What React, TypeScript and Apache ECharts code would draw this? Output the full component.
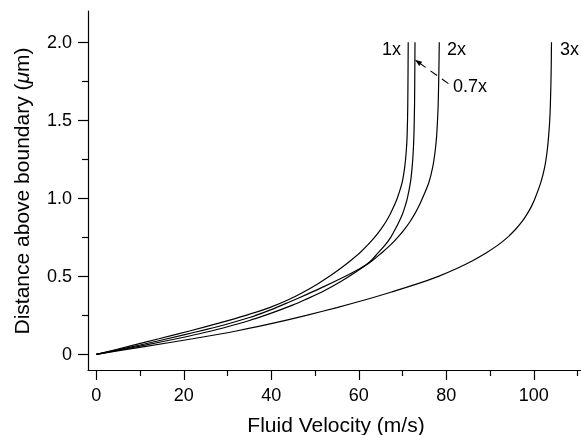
import React, { useEffect, useRef } from "react";
import * as echarts from "echarts";

const xTicks = [0, 20, 40, 60, 80, 100];
const xMinorTicks = [10, 30, 50, 70, 90, 110];
const yTicks = [0, 0.5, 1.0, 1.5, 2.0];
const yMinorTicks = [0.25, 0.75, 1.25, 1.75];

const curveNames = ["1x", "0.7x", "2x", "3x"];

// 1x profile
const x1 = [0, 7.2, 14.3, 21.3, 28, 34.2, 39.6, 43.9, 47.4, 50.5, 53.3, 55.8, 58.1, 60.2, 62.0, 63.6, 65.0, 66.2, 67.2, 68.05, 68.8, 69.9, 70.5, 70.85, 71.05, 71.2, 71.3];
const y1 = [0, 0.05, 0.1, 0.15, 0.2, 0.25, 0.3, 0.35, 0.4, 0.45, 0.5, 0.55, 0.6, 0.65, 0.7, 0.75, 0.8, 0.85, 0.9, 0.95, 1.0, 1.1, 1.2, 1.3, 1.4, 1.6, 2.0];

// 0.7x profile
const x07 = [0, 10, 20, 25, 30, 35, 40, 45, 48, 52, 56, 60, 62.6, 64.4, 66.0, 67.3, 68.3, 69.2, 70.0, 70.6, 71.1, 71.8, 72.2, 72.45, 72.6, 72.75, 72.85];
const y07 = [0, 0.053, 0.11, 0.142, 0.177, 0.217, 0.264, 0.317, 0.354, 0.406, 0.468, 0.54, 0.595, 0.65, 0.7, 0.75, 0.8, 0.85, 0.9, 0.95, 1.0, 1.1, 1.2, 1.3, 1.4, 1.6, 2.0];

// 2x profile
const x2 = [0, 10, 20, 25, 30, 35, 40, 44, 48, 52, 56, 60, 62.6, 65.2, 67.2, 68.9, 70.4, 71.7, 72.8, 73.75, 74.55, 76.0, 76.9, 77.45, 77.8, 78.0, 78.15, 78.3, 78.4];
const y2 = [0, 0.06, 0.125, 0.159, 0.195, 0.236, 0.287, 0.334, 0.383, 0.434, 0.488, 0.546, 0.59, 0.65, 0.7, 0.75, 0.8, 0.85, 0.9, 0.95, 1.0, 1.1, 1.2, 1.3, 1.4, 1.5, 1.6, 1.8, 2.0];

// 3x profile
const x3 = [0, 11, 22, 32, 40.5, 48, 55, 61.5, 67.5, 73.2, 78.2, 82.4, 86, 89.1, 91.8, 94.0, 95.8, 97.3, 98.5, 99.5, 100.3, 101.6, 102.5, 103.05, 103.4, 103.65, 103.8, 103.97, 104.05];
const y3 = [0, 0.05, 0.1, 0.15, 0.2, 0.25, 0.3, 0.35, 0.4, 0.45, 0.5, 0.55, 0.6, 0.65, 0.7, 0.75, 0.8, 0.85, 0.9, 0.95, 1.0, 1.1, 1.2, 1.3, 1.4, 1.5, 1.6, 1.8, 2.0];

const arrowFrom = [80.5, 1.735];
const arrowTo = [73.5, 1.874];

const FONT = "'Liberation Sans', Arial, Helvetica, sans-serif";

const zip = (xs: number[], ys: number[]) => xs.map((x, i) => [x, ys[i]]);

export default function App() {
  const ref = useRef<HTMLDivElement>(null);
  useEffect(() => {
    if (!ref.current) return;
    const chart = echarts.init(ref.current, undefined, { renderer: "svg" });
    const lineStyle = { color: "#000", width: 1.2 };
    const mkSeries = (name: string, xs: number[], ys: number[], extra: any = {}) => ({
      name,
      type: "line",
      data: zip(xs, ys),
      showSymbol: false,
      symbol: "none",
      smooth: 0.3,
      lineStyle,
      silent: true,
      xAxisIndex: 0,
      yAxisIndex: 0,
      ...extra,
    });
    const xRange = { min: -1.9, max: 110.8 };
    const yRange = { min: -0.1, max: 2.2 };
    chart.setOption({
      animation: false,
      grid: { left: 88, right: 0, top: 11, bottom: 65, containLabel: false },
      xAxis: [
        {
          type: "value",
          ...xRange,
          position: "bottom",
          axisLine: { show: true, onZero: false, lineStyle: { color: "#000", width: 1.2 } },
          axisTick: { show: true, customValues: xTicks, length: 10, lineStyle: { color: "#000", width: 1.2 } },
          axisLabel: { show: true, customValues: xTicks, margin: 16, fontSize: 18, color: "#000", fontFamily: FONT },
          splitLine: { show: false },
        },
        {
          type: "value",
          ...xRange,
          position: "bottom",
          axisLine: { show: false, onZero: false },
          axisTick: { show: true, customValues: xMinorTicks, length: 6, lineStyle: { color: "#000", width: 1.2 } },
          axisLabel: { show: false },
          splitLine: { show: false },
        },
      ],
      yAxis: [
        {
          type: "value",
          ...yRange,
          position: "left",
          axisLine: { show: true, onZero: false, lineStyle: { color: "#000", width: 1.2 } },
          axisTick: { show: true, customValues: yTicks, length: 10, lineStyle: { color: "#000", width: 1.2 } },
          axisLabel: {
            show: true,
            customValues: yTicks,
            margin: 16,
            fontSize: 18,
            color: "#000",
            fontFamily: FONT,
            formatter: (v: number) => (v === 0 ? "0" : v.toFixed(1)),
          },
          splitLine: { show: false },
        },
        {
          type: "value",
          ...yRange,
          position: "left",
          axisLine: { show: false, onZero: false },
          axisTick: { show: true, customValues: yMinorTicks, length: 6, lineStyle: { color: "#000", width: 1.2 } },
          axisLabel: { show: false },
          splitLine: { show: false },
        },
      ],
      series: [
        mkSeries(curveNames[0], x1, y1),
        mkSeries(curveNames[1], x07, y07, {
          markLine: {
            silent: true,
            symbol: ["none", "triangle"],
            symbolSize: [5, 7],
            label: { show: false },
            lineStyle: { color: "#000", width: 1.1, type: [8, 6] },
            data: [[{ coord: arrowFrom }, { coord: arrowTo }]],
          },
        }),
        mkSeries(curveNames[2], x2, y2),
        mkSeries(curveNames[3], x3, y3),
      ],
      graphic: [
        { type: "text", x: 382, y: 48.5, style: { text: curveNames[0], fontSize: 18, fontFamily: FONT, fill: "#000", align: "left", verticalAlign: "middle" } },
        { type: "text", x: 447, y: 48.5, style: { text: curveNames[2], fontSize: 18, fontFamily: FONT, fill: "#000", align: "left", verticalAlign: "middle" } },
        { type: "text", x: 560, y: 48.5, style: { text: curveNames[3], fontSize: 18, fontFamily: FONT, fill: "#000", align: "left", verticalAlign: "middle" } },
        { type: "text", x: 453, y: 85.5, style: { text: curveNames[1], fontSize: 18, fontFamily: FONT, fill: "#000", align: "left", verticalAlign: "middle" } },
        {
          type: "text",
          x: 336,
          y: 424,
          style: { text: "Fluid Velocity (m/s)", fontSize: 21, fontFamily: FONT, fill: "#000", align: "center", verticalAlign: "middle" },
        },
        {
          type: "text",
          x: 21,
          y: 191,
          rotation: Math.PI / 2,
          style: {
            text: "Distance above boundary ({mu|μ}m)",
            fontSize: 21,
            fontFamily: FONT,
            fill: "#000",
            align: "center",
            verticalAlign: "middle",
            rich: { mu: { fontSize: 21, fontFamily: FONT, fontStyle: "italic", fill: "#000" } },
          },
        },
      ],
    });
    return () => chart.dispose();
  }, []);
  return <div ref={ref} style={{ position: "fixed", left: 0, top: 0, width: 581, height: 435 }} />;
}
